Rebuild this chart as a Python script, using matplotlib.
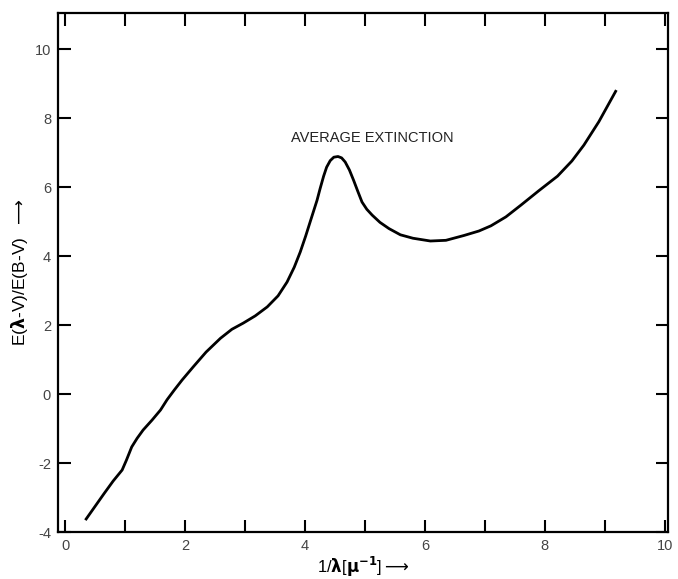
import matplotlib.pyplot as plt

plt.rcParams['font.family'] = ['Liberation Sans', 'DejaVu Sans']
plt.rcParams['axes.unicode_minus'] = False

# inverse wavelength (1/micron) and extinction E(lambda-V)/E(B-V)
inv_wl = [0.35, 0.50, 0.65, 0.80, 0.95, 1.02, 1.11, 1.20, 1.30, 1.45, 1.59,
          1.70, 1.82, 1.95, 2.14, 2.35, 2.59, 2.78, 2.97, 3.17, 3.37, 3.55,
          3.70, 3.82, 3.92, 4.01, 4.09, 4.20, 4.25, 4.31, 4.36, 4.42, 4.48,
          4.55, 4.61, 4.67, 4.74, 4.81, 4.88, 4.95, 5.03, 5.12, 5.25, 5.40,
          5.59, 5.80, 6.09, 6.35, 6.65, 6.90, 7.10, 7.35, 7.60, 7.90, 8.21,
          8.45, 8.65, 8.90, 9.18]
extinction = [-3.62, -3.25, -2.88, -2.52, -2.20, -1.92, -1.53, -1.28, -1.04,
              -0.75, -0.46, -0.16, 0.12, 0.41, 0.80, 1.22, 1.62, 1.88, 2.06,
              2.27, 2.53, 2.85, 3.25, 3.68, 4.12, 4.58, 5.02, 5.62, 5.95,
              6.32, 6.58, 6.77, 6.87, 6.89, 6.85, 6.73, 6.50, 6.20, 5.88,
              5.57, 5.36, 5.19, 4.98, 4.80, 4.62, 4.52, 4.44, 4.46, 4.60,
              4.73, 4.88, 5.14, 5.48, 5.90, 6.32, 6.76, 7.22, 7.90, 8.78]

xticks = list(range(0, 11))
xticklabels = ['0', '', '2', '', '4', '', '6', '', '8', '', '10']
yticks = [-4, -2, 0, 2, 4, 6, 8, 10]

fig = plt.figure(figsize=(6.78, 5.79), dpi=100)
ax = fig.add_axes([0.0855, 0.081, 0.8995, 0.8965])

ax.plot(inv_wl, extinction, color='black', linewidth=2.0)

ax.set_xlim(-0.12, 10.05)
ax.set_ylim(-4, 11.05)
ax.set_xticks(xticks)
ax.set_xticklabels(xticklabels)
ax.set_yticks(yticks)

ax.tick_params(direction='in', length=9, width=1.5, top=True, right=True,
               labelsize=10.5, labelcolor='#444444', pad=5)
for s in ax.spines.values():
    s.set_linewidth(1.6)

ax.text(5.12, 7.42, 'AVERAGE EXTINCTION', fontsize=10.5, color='#222222',
        ha='center', va='center')

ax.set_xlabel(r'1/$\mathbf{\lambda}$[$\mathbf{\mu}^{\mathbf{-1}}$]$\longrightarrow$',
              fontsize=12, labelpad=1)
ax.set_ylabel(r'E($\mathbf{\lambda}$-V)/E(B-V)  $\longrightarrow$',
              fontsize=12.5, labelpad=3)

fig.savefig('out.png', dpi=100)
